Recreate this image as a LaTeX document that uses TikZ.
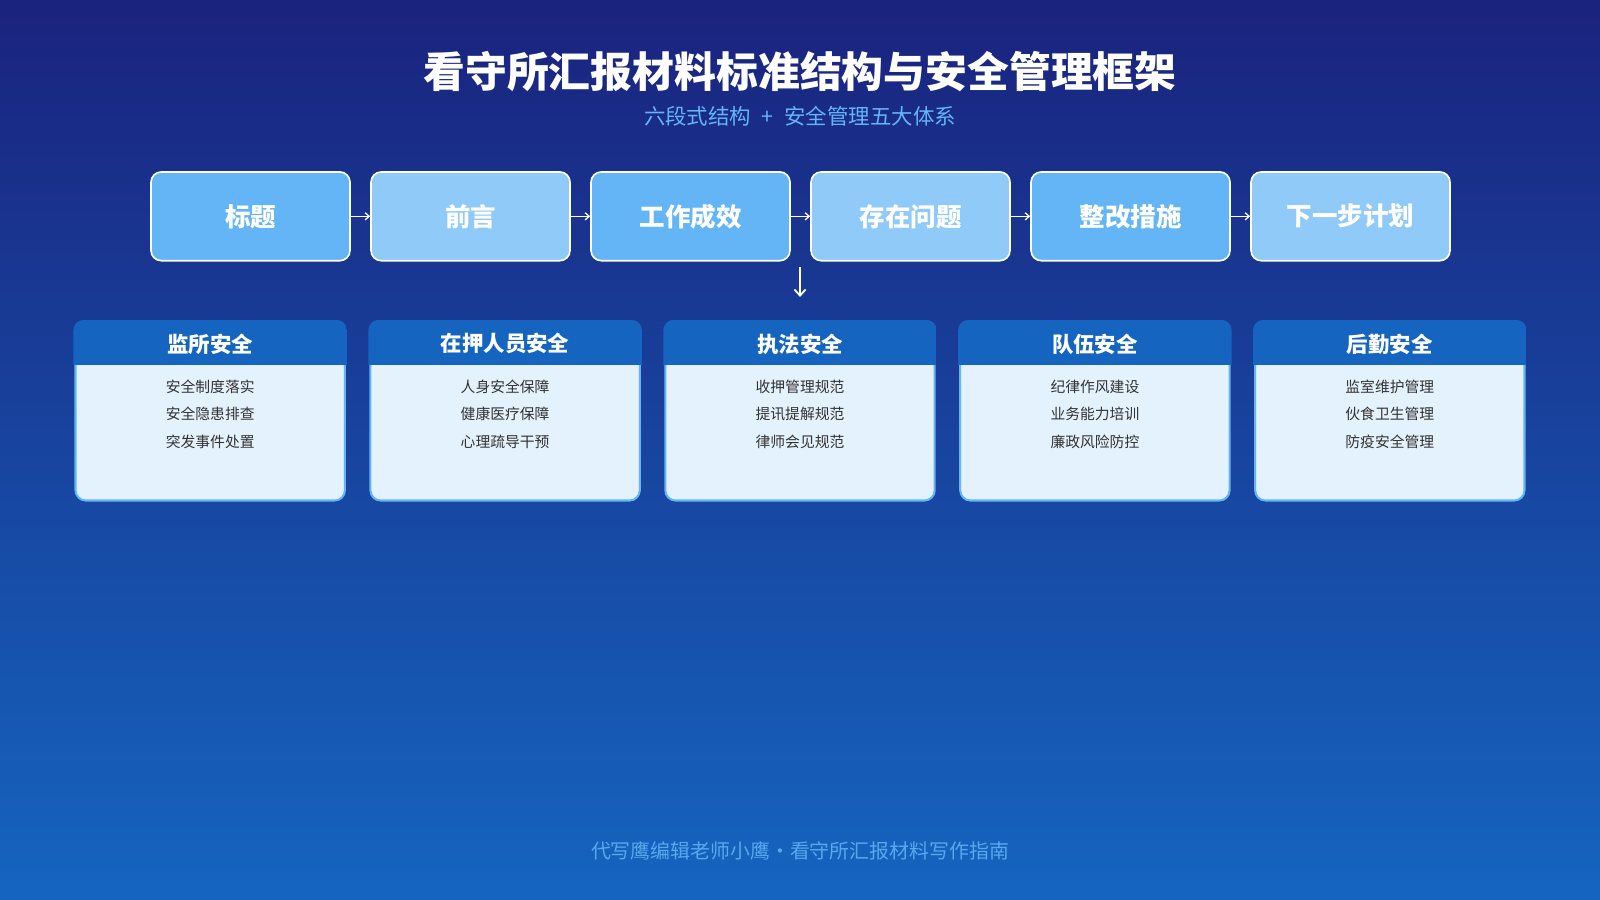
\documentclass[tikz,border=0pt]{standalone}
\usepackage{fontspec}
\setmainfont{Noto Sans CJK SC}
\usetikzlibrary{positioning,arrows.meta}
\definecolor{bgtop}{HTML}{1A237E}
\definecolor{bgbot}{HTML}{1565C0}
\definecolor{stepa}{HTML}{64B5F6}
\definecolor{stepb}{HTML}{90CAF9}
\definecolor{cardhead}{HTML}{1565C0}
\definecolor{cardbody}{HTML}{E3F2FD}
\definecolor{cardline}{HTML}{64B5F6}
\definecolor{itemgray}{HTML}{333333}
\definecolor{subblue}{HTML}{64B5F6}

\begin{document}
\begin{tikzpicture}[x=1pt,y=-1pt,
    stepbox/.style={draw=white,line width=1.6pt,rounded corners=10pt,minimum width=195pt,minimum height=87pt,inner sep=0pt,text=white,font=\bfseries\fontsize{25}{30}\selectfont},
    flow/.style={white,line width=1.3pt,-{Straight Barb[length=4pt,width=7pt]}},
    card/.style={draw=cardline,line width=2pt,fill=cardbody,rounded corners=10pt,minimum width=264pt,minimum height=175pt,inner sep=0pt},
    headtext/.style={text=white,font=\bfseries\fontsize{21}{25}\selectfont},
    itemtext/.style={text=itemgray,align=center,font=\fontsize{14.5}{27}\selectfont}]
                    \useasboundingbox (0,0) rectangle (1568,882);
                    \shade[top color=bgtop,bottom color=bgbot] (0,0) rectangle (1568,882);
                    \node[text=white,font=\bfseries\fontsize{41}{48}\selectfont] (title) at (784,70) {看守所汇报材料标准结构与安全管理框架};
                    \node[text=subblue,font=\fontsize{21}{25}\selectfont] (subtitle) at (784,114) {六段式结构\hspace{0.5em}+\hspace{0.5em}安全管理五大体系};
                    \node[stepbox,fill=stepa] (s1) at (245.5,212) {标题};
                    \node[stepbox,fill=stepb,right=19pt of s1] (s2) {前言};
                    \node[stepbox,fill=stepa,right=19pt of s2] (s3) {工作成效};
                    \node[stepbox,fill=stepb,right=19pt of s3] (s4) {存在问题};
                    \node[stepbox,fill=stepa,right=19pt of s4] (s5) {整改措施};
                    \node[stepbox,fill=stepb,right=19pt of s5] (s6) {下一步计划};
                    \draw[flow] (s1) -- (s2);
                    \draw[flow] (s2) -- (s3);
                    \draw[flow] (s3) -- (s4);
                    \draw[flow] (s4) -- (s5);
                    \draw[flow] (s5) -- (s6);
                    \coordinate (dtop) at (784,262);
                    \coordinate (dbot) at (784,291);
                    \draw[white,line width=1.8pt,-{Straight Barb[length=6pt,width=11pt]}] (dtop) -- (dbot);
                    \foreach \i/\x/\t/\a/\b/\c in {1/206/监所安全/安全制度落实/安全隐患排查/突发事件处置,
                        2/495/在押人员安全/人身安全保障/健康医疗保障/心理疏导干预,
                        3/784/执法安全/收押管理规范/提讯提解规范/律师会见规范,
                        4/1073/队伍安全/纪律作风建设/业务能力培训/廉政风险防控,
                        5/1362/后勤安全/监室维护管理/伙食卫生管理/防疫安全管理}{
                        \node[card] (c\i) at (\x,403) {};
                        \begin{scope}
                            \clip[rounded corners=10pt] ([xshift=-1pt,yshift=1pt]c\i.north west) rectangle ([xshift=1pt,yshift=-1pt]c\i.south east);
                            \fill[cardhead] ([xshift=-1pt,yshift=1pt]c\i.north west) rectangle ([xshift=1pt,yshift=-43pt]c\i.north east);
                        \end{scope}
                        \node[headtext] (h\i) at ([yshift=-22.5pt]c\i.north) {\t};
                        \node[itemtext] (l\i) at ([yshift=-91.5pt]c\i.north) {\a\\\b\\\c};
                    }
                    \node[text=subblue,opacity=0.85,font=\fontsize{19.5}{24}\selectfont] (footer) at (784,834) {代写鹰编辑老师小鹰·看守所汇报材料写作指南};
                \end{tikzpicture}
\end{document}
